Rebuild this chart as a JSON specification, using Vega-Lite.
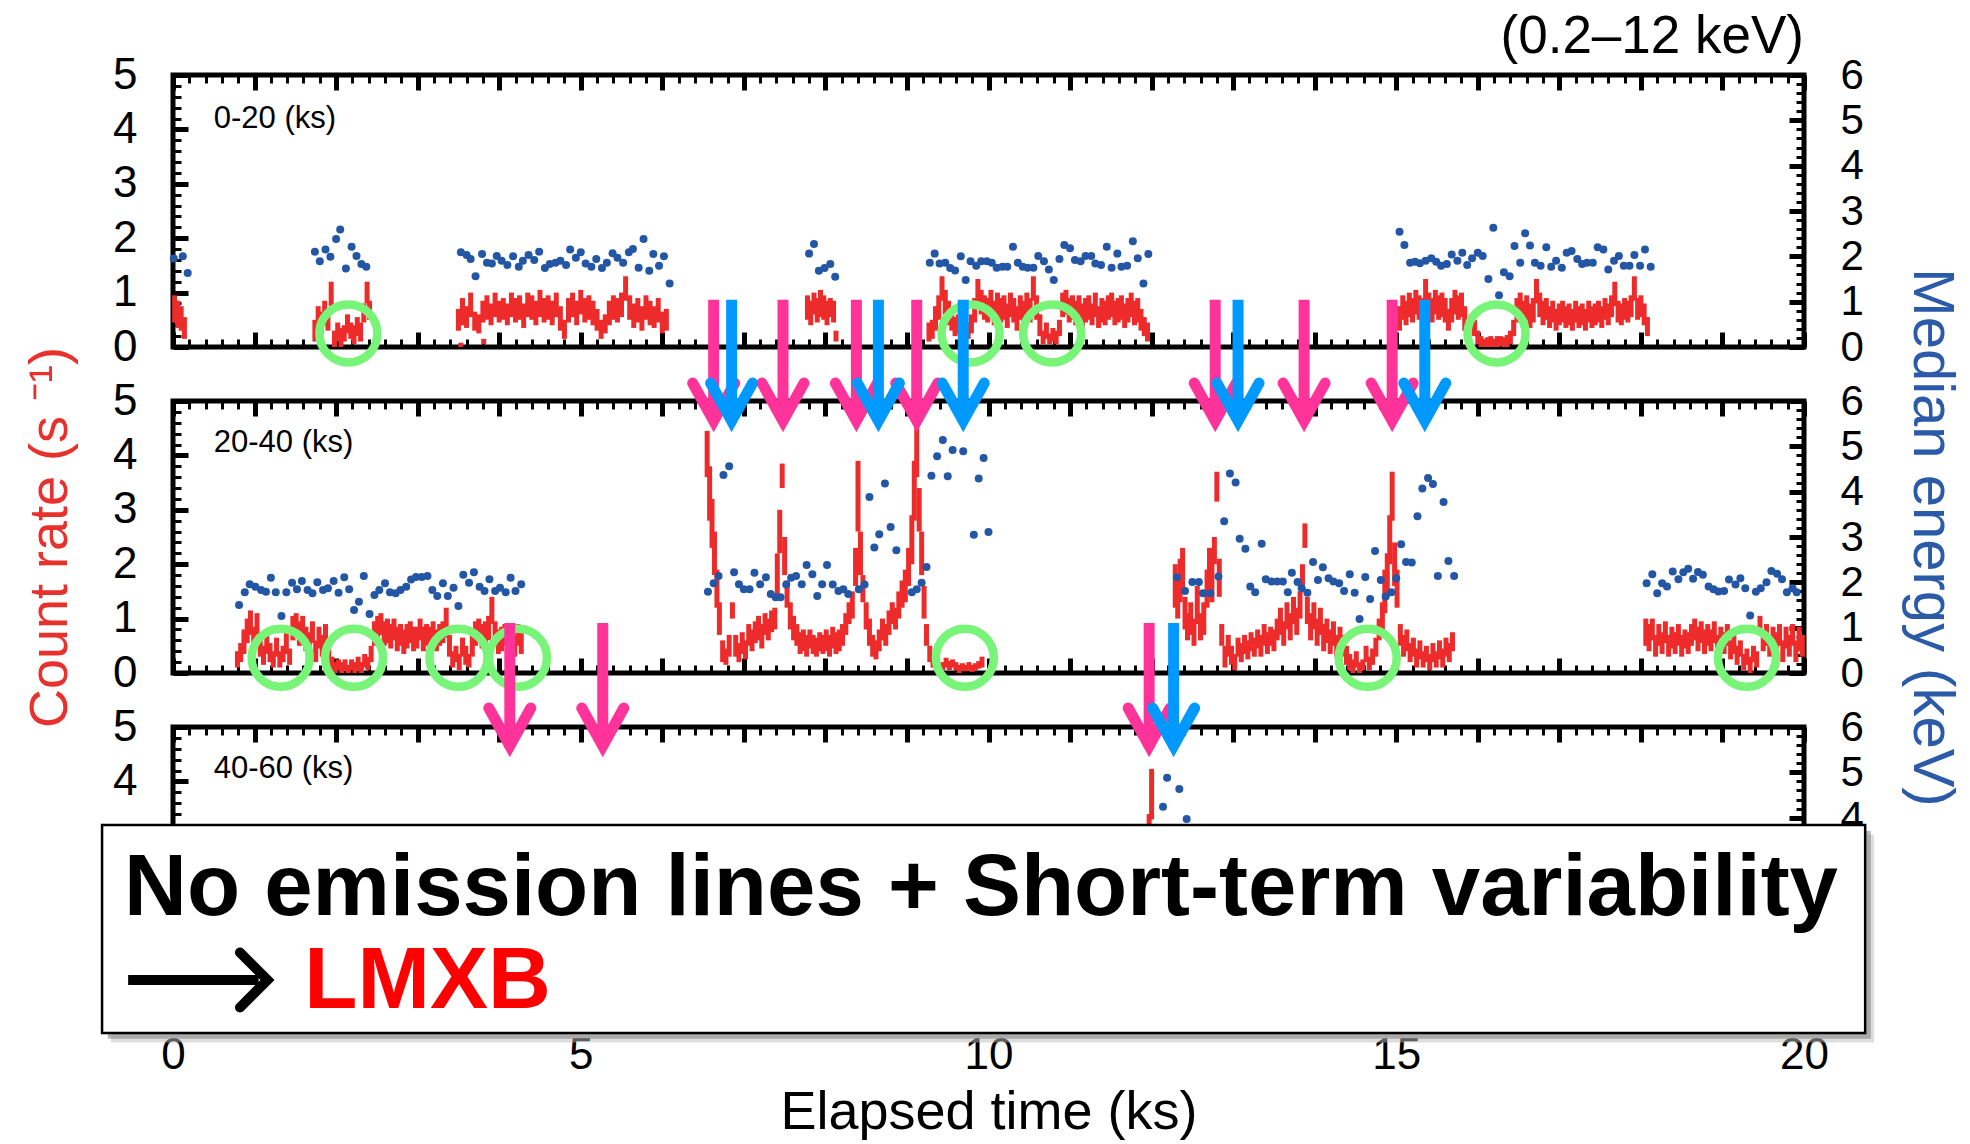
{
"$schema": "https://vega.github.io/schema/vega-lite/v6.json",
"background": "white",
"padding": {"left": 21, "top": 8, "right": 5, "bottom": 5},
"bounds": "flush",
"spacing": 54,
"config": {
  "view": {"stroke": "black", "strokeWidth": 5},
  "axis": {"grid": false, "labelFont": "Liberation Sans", "titleFont": "Liberation Sans", "labelColor": "black", "tickColor": "black", "labelFlush": false, "labelOverlap": false, "titleFontWeight": "normal"},
  "text": {"font": "Liberation Sans", "color": "black"}
},
"datasets": {
"r1": [
{"t":0.02,"a":0.45,"b":0.95},{"t":0.06,"a":0.35,"b":0.85},{"t":0.1,"a":0.3,"b":0.75},{"t":0.14,"a":0.15,"b":0.55},
{"t":1.74,"a":0.1,"b":0.5},{"t":1.78,"a":0.3,"b":0.75},{"t":1.82,"a":0.25,"b":0.65},{"t":1.86,"a":0.4,"b":0.85},{"t":1.9,"a":0.3,"b":0.7},{"t":1.94,"a":0.75,"b":1.2},{"t":1.98,"a":0.0,"b":0.3},{"t":2.02,"a":0.1,"b":0.45},{"t":2.06,"a":0.0,"b":0.35},{"t":2.1,"a":0.1,"b":0.4},{"t":2.14,"a":0.25,"b":0.6},{"t":2.18,"a":0.15,"b":0.45},{"t":2.22,"a":0.05,"b":0.4},{"t":2.26,"a":0.2,"b":0.55},{"t":2.3,"a":0.1,"b":0.45},{"t":2.34,"a":0.45,"b":0.8},{"t":2.38,"a":0.8,"b":1.2},{"t":2.41,"a":0.5,"b":0.85},
{"t":3.5,"a":0.3,"b":0.7},{"t":3.53,"a":0.0,"b":0.08},{"t":3.55,"a":0.4,"b":0.9},{"t":3.6,"a":0.35,"b":0.75},{"t":3.65,"a":0.55,"b":1.0},{"t":3.7,"a":0.3,"b":0.65},{"t":3.75,"a":0.25,"b":0.6},{"t":3.8,"a":0.45,"b":0.85},{"t":3.81,"a":0.05,"b":0.15},{"t":3.85,"a":0.5,"b":0.95},{"t":3.9,"a":0.4,"b":0.8},{"t":3.95,"a":0.55,"b":1.0},{"t":4.0,"a":0.45,"b":0.85},{"t":4.05,"a":0.5,"b":0.9},{"t":4.1,"a":0.4,"b":0.8},{"t":4.15,"a":0.55,"b":1.0},{"t":4.2,"a":0.45,"b":0.9},{"t":4.25,"a":0.5,"b":0.95},{"t":4.3,"a":0.35,"b":0.8},{"t":4.35,"a":0.55,"b":1.0},{"t":4.4,"a":0.5,"b":0.95},{"t":4.45,"a":0.4,"b":0.85},{"t":4.5,"a":0.55,"b":1.05},{"t":4.55,"a":0.45,"b":0.9},{"t":4.6,"a":0.5,"b":0.95},{"t":4.65,"a":0.4,"b":0.85},{"t":4.7,"a":0.55,"b":1.0},{"t":4.75,"a":0.3,"b":0.75},{"t":4.8,"a":0.15,"b":0.5},{"t":4.85,"a":0.45,"b":0.9},{"t":4.9,"a":0.55,"b":1.0},{"t":4.95,"a":0.4,"b":0.85},{"t":5.0,"a":0.6,"b":1.05},{"t":5.05,"a":0.45,"b":0.9},{"t":5.1,"a":0.5,"b":0.95},{"t":5.15,"a":0.4,"b":0.85},{"t":5.2,"a":0.3,"b":0.7},{"t":5.25,"a":0.15,"b":0.5},{"t":5.3,"a":0.25,"b":0.6},{"t":5.35,"a":0.4,"b":0.85},{"t":5.4,"a":0.5,"b":0.95},{"t":5.45,"a":0.45,"b":0.9},{"t":5.5,"a":0.55,"b":1.0},{"t":5.55,"a":0.85,"b":1.3},{"t":5.6,"a":0.5,"b":0.95},{"t":5.65,"a":0.35,"b":0.8},{"t":5.7,"a":0.45,"b":0.9},{"t":5.75,"a":0.3,"b":0.75},{"t":5.8,"a":0.5,"b":0.95},{"t":5.85,"a":0.4,"b":0.85},{"t":5.9,"a":0.35,"b":0.75},{"t":5.95,"a":0.45,"b":0.9},{"t":6.0,"a":0.25,"b":0.65},{"t":6.05,"a":0.3,"b":0.7},
{"t":7.78,"a":0.5,"b":0.95},{"t":7.82,"a":0.4,"b":0.85},{"t":7.86,"a":0.6,"b":1.0},{"t":7.9,"a":0.45,"b":0.9},{"t":7.94,"a":0.55,"b":1.05},{"t":7.98,"a":0.5,"b":0.95},{"t":8.02,"a":0.4,"b":0.85},{"t":8.06,"a":0.55,"b":0.9},{"t":8.1,"a":0.45,"b":0.85},{"t":8.13,"a":0.1,"b":0.3},
{"t":9.27,"a":0.1,"b":0.45},{"t":9.31,"a":0.15,"b":0.5},{"t":9.35,"a":0.3,"b":0.75},{"t":9.39,"a":0.5,"b":0.95},{"t":9.43,"a":0.85,"b":1.3},{"t":9.47,"a":0.6,"b":1.05},{"t":9.51,"a":0.4,"b":0.85},{"t":9.55,"a":0.3,"b":0.7},{"t":9.59,"a":0.2,"b":0.55},{"t":9.63,"a":0.25,"b":0.6},{"t":9.67,"a":0.1,"b":0.45},{"t":9.71,"a":0.05,"b":0.3},{"t":9.75,"a":0.15,"b":0.45},{"t":9.79,"a":0.25,"b":0.6},{"t":9.83,"a":0.45,"b":0.9},{"t":9.87,"a":0.8,"b":1.25},{"t":9.91,"a":0.6,"b":1.05},{"t":9.95,"a":0.5,"b":0.95},{"t":9.99,"a":0.45,"b":0.9},{"t":10.03,"a":0.6,"b":1.05},{"t":10.07,"a":0.4,"b":0.85},{"t":10.11,"a":0.55,"b":1.0},{"t":10.15,"a":0.45,"b":0.9},{"t":10.19,"a":0.5,"b":0.95},{"t":10.23,"a":0.35,"b":0.8},{"t":10.27,"a":0.55,"b":1.0},{"t":10.31,"a":0.45,"b":0.9},{"t":10.35,"a":0.3,"b":0.75},{"t":10.39,"a":0.5,"b":0.95},{"t":10.43,"a":0.4,"b":0.85},{"t":10.47,"a":0.55,"b":1.0},{"t":10.51,"a":0.45,"b":0.9},{"t":10.55,"a":0.85,"b":1.3},{"t":10.59,"a":0.5,"b":0.95},{"t":10.63,"a":0.2,"b":0.6},{"t":10.67,"a":0.05,"b":0.3},{"t":10.71,"a":0.15,"b":0.45},{"t":10.75,"a":0.05,"b":0.25},{"t":10.79,"a":0.1,"b":0.35},{"t":10.83,"a":0.05,"b":0.3},{"t":10.87,"a":0.2,"b":0.5},{"t":10.91,"a":0.55,"b":1.0},{"t":10.95,"a":0.6,"b":1.05},{"t":10.99,"a":0.45,"b":0.9},{"t":11.03,"a":0.5,"b":0.95},{"t":11.07,"a":0.4,"b":0.85},{"t":11.11,"a":0.55,"b":0.95},{"t":11.15,"a":0.35,"b":0.8},{"t":11.19,"a":0.45,"b":0.9},{"t":11.23,"a":0.5,"b":0.95},{"t":11.27,"a":0.4,"b":0.8},{"t":11.31,"a":0.55,"b":1.0},{"t":11.35,"a":0.35,"b":0.75},{"t":11.39,"a":0.45,"b":0.9},{"t":11.43,"a":0.4,"b":0.85},{"t":11.47,"a":0.5,"b":0.95},{"t":11.51,"a":0.55,"b":1.0},{"t":11.55,"a":0.4,"b":0.85},{"t":11.59,"a":0.45,"b":0.9},{"t":11.63,"a":0.5,"b":0.95},{"t":11.67,"a":0.35,"b":0.8},{"t":11.71,"a":0.45,"b":0.9},{"t":11.75,"a":0.55,"b":1.0},{"t":11.79,"a":0.4,"b":0.85},{"t":11.83,"a":0.45,"b":0.9},{"t":11.87,"a":0.3,"b":0.7},{"t":11.91,"a":0.2,"b":0.55},{"t":11.95,"a":0.1,"b":0.45},
{"t":15.04,"a":0.3,"b":0.75},{"t":15.08,"a":0.5,"b":0.95},{"t":15.12,"a":0.4,"b":0.85},{"t":15.16,"a":0.55,"b":1.0},{"t":15.2,"a":0.45,"b":0.9},{"t":15.24,"a":0.6,"b":1.05},{"t":15.28,"a":0.5,"b":0.95},{"t":15.32,"a":0.45,"b":0.9},{"t":15.36,"a":0.8,"b":1.25},{"t":15.4,"a":0.55,"b":1.0},{"t":15.44,"a":0.45,"b":0.9},{"t":15.48,"a":0.6,"b":1.05},{"t":15.52,"a":0.5,"b":0.95},{"t":15.56,"a":0.55,"b":1.0},{"t":15.6,"a":0.45,"b":0.9},{"t":15.64,"a":0.3,"b":0.7},{"t":15.68,"a":0.45,"b":0.9},{"t":15.72,"a":0.6,"b":1.05},{"t":15.76,"a":0.5,"b":0.95},{"t":15.8,"a":0.55,"b":1.0},{"t":15.84,"a":0.3,"b":0.75},{"t":15.88,"a":0.15,"b":0.45},{"t":15.92,"a":0.3,"b":0.6},{"t":15.96,"a":0.2,"b":0.5},{"t":16.0,"a":0.05,"b":0.3},{"t":16.04,"a":0.0,"b":0.2},{"t":16.08,"a":0.0,"b":0.15},{"t":16.12,"a":0.0,"b":0.18},{"t":16.16,"a":0.0,"b":0.2},{"t":16.2,"a":0.0,"b":0.15},{"t":16.24,"a":0.0,"b":0.2},{"t":16.28,"a":0.02,"b":0.2},{"t":16.32,"a":0.0,"b":0.18},{"t":16.36,"a":0.0,"b":0.22},{"t":16.4,"a":0.05,"b":0.3},{"t":16.44,"a":0.2,"b":0.5},{"t":16.48,"a":0.45,"b":0.9},{"t":16.52,"a":0.55,"b":1.0},{"t":16.56,"a":0.4,"b":0.85},{"t":16.6,"a":0.5,"b":0.95},{"t":16.64,"a":0.35,"b":0.8},{"t":16.68,"a":0.45,"b":0.9},{"t":16.72,"a":0.8,"b":1.25},{"t":16.76,"a":0.55,"b":1.0},{"t":16.8,"a":0.4,"b":0.85},{"t":16.84,"a":0.5,"b":0.9},{"t":16.88,"a":0.35,"b":0.75},{"t":16.92,"a":0.45,"b":0.85},{"t":16.96,"a":0.3,"b":0.7},{"t":17.0,"a":0.4,"b":0.8},{"t":17.04,"a":0.45,"b":0.85},{"t":17.08,"a":0.35,"b":0.75},{"t":17.12,"a":0.4,"b":0.8},{"t":17.16,"a":0.3,"b":0.7},{"t":17.2,"a":0.45,"b":0.85},{"t":17.24,"a":0.35,"b":0.75},{"t":17.28,"a":0.4,"b":0.8},{"t":17.32,"a":0.3,"b":0.7},{"t":17.36,"a":0.45,"b":0.85},{"t":17.4,"a":0.35,"b":0.75},{"t":17.44,"a":0.4,"b":0.8},{"t":17.48,"a":0.45,"b":0.85},{"t":17.52,"a":0.35,"b":0.75},{"t":17.56,"a":0.5,"b":0.9},{"t":17.6,"a":0.4,"b":0.8},{"t":17.64,"a":0.55,"b":0.95},{"t":17.68,"a":0.75,"b":1.2},{"t":17.72,"a":0.45,"b":0.85},{"t":17.76,"a":0.4,"b":0.8},{"t":17.8,"a":0.5,"b":0.9},{"t":17.84,"a":0.45,"b":0.85},{"t":17.88,"a":0.55,"b":0.95},{"t":17.92,"a":0.85,"b":1.3},{"t":17.96,"a":0.5,"b":0.9},{"t":18.0,"a":0.55,"b":0.95},{"t":18.04,"a":0.4,"b":0.8},{"t":18.08,"a":0.2,"b":0.55}
],
"e1": [
{"t":0.01,"e":1.95},{"t":0.12,"e":2.0},{"t":0.18,"e":1.63},
{"t":1.74,"e":2.1},{"t":1.8,"e":1.89},{"t":1.87,"e":2.15},{"t":1.93,"e":1.99},{"t":2.0,"e":2.38},{"t":2.05,"e":2.59},{"t":2.12,"e":1.73},{"t":2.19,"e":2.21},{"t":2.25,"e":2.01},{"t":2.31,"e":1.83},{"t":2.37,"e":1.77},
{"t":3.53,"e":2.09},{"t":3.6,"e":2.03},{"t":3.65,"e":1.94},{"t":3.71,"e":1.56},{"t":3.79,"e":2.05},{"t":3.85,"e":1.86},{"t":3.91,"e":1.84},{"t":3.97,"e":2.01},{"t":4.03,"e":1.9},{"t":4.1,"e":1.81},{"t":4.17,"e":2.0},{"t":4.24,"e":1.77},{"t":4.29,"e":1.9},{"t":4.36,"e":2.03},{"t":4.43,"e":1.92},{"t":4.49,"e":2.1},{"t":4.56,"e":1.74},{"t":4.62,"e":1.83},{"t":4.69,"e":1.86},{"t":4.75,"e":1.9},{"t":4.82,"e":1.81},{"t":4.87,"e":2.15},{"t":4.94,"e":1.97},{"t":5.0,"e":2.09},{"t":5.06,"e":1.84},{"t":5.13,"e":1.77},{"t":5.19,"e":1.94},{"t":5.26,"e":1.74},{"t":5.32,"e":1.86},{"t":5.39,"e":2.07},{"t":5.45,"e":1.97},{"t":5.52,"e":1.86},{"t":5.59,"e":2.09},{"t":5.64,"e":2.16},{"t":5.71,"e":1.75},{"t":5.77,"e":2.38},{"t":5.84,"e":1.68},{"t":5.89,"e":2.05},{"t":5.96,"e":1.79},{"t":6.02,"e":2.0},{"t":6.09,"e":1.4},
{"t":7.8,"e":2.06},{"t":7.86,"e":2.27},{"t":7.92,"e":1.68},{"t":7.99,"e":1.74},{"t":8.06,"e":1.83},{"t":8.12,"e":1.55},
{"t":9.28,"e":1.86},{"t":9.34,"e":2.06},{"t":9.4,"e":1.84},{"t":9.47,"e":1.86},{"t":9.53,"e":1.74},{"t":9.59,"e":1.69},{"t":9.66,"e":2.0},{"t":9.72,"e":1.48},{"t":9.78,"e":1.89},{"t":9.85,"e":1.79},{"t":9.91,"e":1.89},{"t":9.98,"e":1.89},{"t":10.04,"e":1.86},{"t":10.1,"e":1.75},{"t":10.17,"e":1.77},{"t":10.23,"e":1.77},{"t":10.3,"e":2.21},{"t":10.36,"e":1.86},{"t":10.42,"e":1.77},{"t":10.48,"e":1.75},{"t":10.55,"e":1.75},{"t":10.61,"e":2.01},{"t":10.68,"e":1.89},{"t":10.74,"e":1.71},{"t":10.8,"e":1.48},{"t":10.87,"e":1.94},{"t":10.93,"e":2.25},{"t":11.0,"e":2.18},{"t":11.06,"e":1.92},{"t":11.13,"e":1.89},{"t":11.19,"e":2.01},{"t":11.26,"e":2.01},{"t":11.31,"e":1.84},{"t":11.38,"e":1.81},{"t":11.45,"e":2.21},{"t":11.51,"e":1.75},{"t":11.58,"e":2.06},{"t":11.63,"e":1.77},{"t":11.7,"e":1.79},{"t":11.77,"e":2.33},{"t":11.83,"e":1.96},{"t":11.9,"e":1.4},{"t":11.96,"e":2.05},
{"t":15.04,"e":2.54},{"t":15.1,"e":2.25},{"t":15.17,"e":1.86},{"t":15.23,"e":1.88},{"t":15.29,"e":1.85},{"t":15.36,"e":1.9},{"t":15.43,"e":1.96},{"t":15.49,"e":1.88},{"t":15.55,"e":1.79},{"t":15.62,"e":1.83},{"t":15.68,"e":2.04},{"t":15.75,"e":1.9},{"t":15.81,"e":2.08},{"t":15.87,"e":1.81},{"t":15.93,"e":1.96},{"t":16.0,"e":2.08},{"t":16.06,"e":2.01},{"t":16.13,"e":1.5},{"t":16.19,"e":2.63},{"t":16.26,"e":1.14},{"t":16.32,"e":1.65},{"t":16.39,"e":1.56},{"t":16.45,"e":2.23},{"t":16.52,"e":1.86},{"t":16.58,"e":2.51},{"t":16.64,"e":2.24},{"t":16.7,"e":1.86},{"t":16.77,"e":1.79},{"t":16.84,"e":2.2},{"t":16.9,"e":1.77},{"t":16.96,"e":1.9},{"t":17.03,"e":1.75},{"t":17.09,"e":2.08},{"t":17.15,"e":2.12},{"t":17.22,"e":1.94},{"t":17.28,"e":1.83},{"t":17.34,"e":1.86},{"t":17.41,"e":1.86},{"t":17.47,"e":2.2},{"t":17.54,"e":2.15},{"t":17.6,"e":1.71},{"t":17.67,"e":1.9},{"t":17.73,"e":2.01},{"t":17.79,"e":1.79},{"t":17.86,"e":1.79},{"t":17.92,"e":2.03},{"t":17.99,"e":1.79},{"t":18.05,"e":2.15},{"t":18.12,"e":1.77}
],
"c1": [{"t":2.15,"v":0.25},{"t":9.78,"v":0.25},{"t":10.78,"v":0.25},{"t":16.23,"v":0.25}],
"r2": [
{"t":0.79,"a":0.1,"b":0.4},{"t":0.83,"a":0.2,"b":0.55},{"t":0.87,"a":0.35,"b":0.8},{"t":0.91,"a":0.55,"b":1.0},{"t":0.95,"a":0.7,"b":1.15},{"t":0.99,"a":0.4,"b":0.85},{"t":1.03,"a":0.6,"b":1.1},{"t":1.07,"a":0.3,"b":0.75},{"t":1.11,"a":0.15,"b":0.5},{"t":1.15,"a":0.35,"b":0.7},{"t":1.19,"a":0.2,"b":0.55},{"t":1.23,"a":0.1,"b":0.4},{"t":1.27,"a":0.3,"b":0.65},{"t":1.31,"a":0.1,"b":0.4},{"t":1.35,"a":0.2,"b":0.5},{"t":1.39,"a":0.35,"b":0.75},{"t":1.43,"a":0.15,"b":0.45},{"t":1.47,"a":0.6,"b":1.05},{"t":1.51,"a":0.7,"b":1.1},{"t":1.55,"a":0.5,"b":0.95},{"t":1.59,"a":0.65,"b":1.05},{"t":1.63,"a":0.4,"b":0.85},{"t":1.67,"a":0.3,"b":0.75},{"t":1.71,"a":0.55,"b":0.95},{"t":1.75,"a":0.2,"b":0.6},{"t":1.79,"a":0.45,"b":0.85},{"t":1.83,"a":0.3,"b":0.7},{"t":1.87,"a":0.5,"b":0.9},{"t":1.91,"a":0.15,"b":0.45},{"t":1.95,"a":0.05,"b":0.3},{"t":1.99,"a":0.0,"b":0.2},{"t":2.03,"a":0.05,"b":0.25},{"t":2.07,"a":0.0,"b":0.2},{"t":2.11,"a":0.05,"b":0.25},{"t":2.15,"a":0.0,"b":0.15},{"t":2.19,"a":0.05,"b":0.25},{"t":2.23,"a":0.0,"b":0.2},{"t":2.27,"a":0.05,"b":0.3},{"t":2.31,"a":0.0,"b":0.2},{"t":2.35,"a":0.1,"b":0.35},{"t":2.39,"a":0.05,"b":0.3},{"t":2.43,"a":0.2,"b":0.5},{"t":2.47,"a":0.5,"b":0.95},{"t":2.51,"a":0.6,"b":1.05},{"t":2.55,"a":0.7,"b":1.1},{"t":2.59,"a":0.5,"b":0.95},{"t":2.63,"a":0.55,"b":1.0},{"t":2.67,"a":0.45,"b":0.9},{"t":2.71,"a":0.6,"b":1.0},{"t":2.75,"a":0.4,"b":0.85},{"t":2.79,"a":0.5,"b":0.9},{"t":2.83,"a":0.35,"b":0.8},{"t":2.87,"a":0.45,"b":0.9},{"t":2.91,"a":0.55,"b":0.95},{"t":2.95,"a":0.4,"b":0.85},{"t":2.99,"a":0.45,"b":0.85},{"t":3.03,"a":0.6,"b":1.0},{"t":3.07,"a":0.4,"b":0.85},{"t":3.11,"a":0.5,"b":0.9},{"t":3.15,"a":0.45,"b":0.85},{"t":3.19,"a":0.55,"b":0.95},{"t":3.23,"a":0.4,"b":0.8},{"t":3.27,"a":0.5,"b":0.9},{"t":3.31,"a":0.55,"b":0.95},{"t":3.35,"a":0.65,"b":1.2},{"t":3.39,"a":0.3,"b":0.7},{"t":3.43,"a":0.1,"b":0.4},{"t":3.47,"a":0.2,"b":0.5},{"t":3.51,"a":0.05,"b":0.35},{"t":3.55,"a":0.3,"b":0.65},{"t":3.59,"a":0.15,"b":0.5},{"t":3.63,"a":0.1,"b":0.35},{"t":3.67,"a":0.3,"b":0.7},{"t":3.71,"a":0.5,"b":0.95},{"t":3.75,"a":0.6,"b":1.0},{"t":3.79,"a":0.45,"b":0.9},{"t":3.83,"a":0.55,"b":0.95},{"t":3.87,"a":0.6,"b":1.05},{"t":3.91,"a":0.9,"b":1.4},{"t":3.95,"a":0.5,"b":0.95},{"t":3.99,"a":0.35,"b":0.8},{"t":4.03,"a":0.4,"b":0.85},{"t":4.07,"a":0.5,"b":0.9},{"t":4.11,"a":0.35,"b":0.75},{"t":4.15,"a":0.45,"b":0.85},{"t":4.19,"a":0.3,"b":0.7},{"t":4.23,"a":0.5,"b":0.9},{"t":4.27,"a":0.35,"b":0.75},
{"t":6.55,"a":3.6,"b":4.45},{"t":6.58,"a":2.8,"b":3.8},{"t":6.61,"a":2.3,"b":3.2},{"t":6.64,"a":1.8,"b":2.6},{"t":6.67,"a":1.2,"b":1.9},{"t":6.7,"a":0.7,"b":1.3},{"t":6.74,"a":0.2,"b":0.6},{"t":6.78,"a":0.15,"b":0.45},{"t":6.82,"a":0.3,"b":0.7},{"t":6.86,"a":1.0,"b":1.3},{"t":6.9,"a":0.3,"b":0.7},{"t":6.94,"a":0.2,"b":0.55},{"t":6.98,"a":0.35,"b":0.75},{"t":7.02,"a":0.25,"b":0.6},{"t":7.06,"a":0.5,"b":0.9},{"t":7.1,"a":0.4,"b":0.8},{"t":7.14,"a":0.55,"b":0.95},{"t":7.18,"a":0.6,"b":1.05},{"t":7.22,"a":0.45,"b":0.9},{"t":7.26,"a":0.7,"b":1.1},{"t":7.3,"a":0.6,"b":1.0},{"t":7.34,"a":0.75,"b":1.15},{"t":7.38,"a":0.8,"b":1.2},{"t":7.41,"a":1.4,"b":2.2},{"t":7.44,"a":2.2,"b":3.0},{"t":7.47,"a":3.4,"b":3.85},{"t":7.5,"a":1.8,"b":2.5},{"t":7.53,"a":1.2,"b":1.7},{"t":7.57,"a":0.8,"b":1.3},{"t":7.61,"a":0.6,"b":1.05},{"t":7.65,"a":0.5,"b":0.9},{"t":7.69,"a":0.35,"b":0.75},{"t":7.73,"a":0.4,"b":0.8},{"t":7.77,"a":0.3,"b":0.7},{"t":7.81,"a":0.45,"b":0.8},{"t":7.85,"a":0.35,"b":0.7},{"t":7.89,"a":0.3,"b":0.65},{"t":7.93,"a":0.4,"b":0.75},{"t":7.97,"a":0.35,"b":0.7},{"t":8.01,"a":0.4,"b":0.8},{"t":8.05,"a":0.3,"b":0.7},{"t":8.09,"a":0.45,"b":0.85},{"t":8.13,"a":0.35,"b":0.75},{"t":8.17,"a":0.4,"b":0.8},{"t":8.21,"a":0.5,"b":0.9},{"t":8.25,"a":0.7,"b":1.1},{"t":8.29,"a":0.9,"b":1.3},{"t":8.33,"a":1.0,"b":1.5},{"t":8.37,"a":1.6,"b":2.3},{"t":8.4,"a":2.6,"b":3.9},{"t":8.43,"a":1.8,"b":2.6},{"t":8.46,"a":1.3,"b":1.8},{"t":8.5,"a":0.8,"b":1.3},{"t":8.54,"a":0.5,"b":1.0},{"t":8.58,"a":0.3,"b":0.7},{"t":8.62,"a":0.25,"b":0.6},{"t":8.66,"a":0.4,"b":0.8},{"t":8.7,"a":0.6,"b":1.0},{"t":8.74,"a":0.5,"b":0.9},{"t":8.78,"a":0.7,"b":1.15},{"t":8.82,"a":0.9,"b":1.3},{"t":8.86,"a":0.8,"b":1.2},{"t":8.9,"a":1.0,"b":1.5},{"t":8.94,"a":1.2,"b":1.7},{"t":8.98,"a":1.3,"b":1.9},{"t":9.02,"a":1.6,"b":2.3},{"t":9.06,"a":2.0,"b":2.9},{"t":9.09,"a":2.8,"b":3.9},{"t":9.12,"a":3.6,"b":4.6},{"t":9.15,"a":2.6,"b":3.4},{"t":9.18,"a":1.8,"b":2.6},{"t":9.21,"a":1.0,"b":1.6},{"t":9.24,"a":0.5,"b":0.9},{"t":9.28,"a":0.2,"b":0.5},{"t":9.32,"a":0.1,"b":0.3},{"t":9.36,"a":0.05,"b":0.25},{"t":9.4,"a":0.0,"b":0.15},{"t":9.44,"a":0.05,"b":0.2},{"t":9.48,"a":0.1,"b":0.28},{"t":9.52,"a":0.05,"b":0.22},{"t":9.56,"a":0.1,"b":0.25},{"t":9.6,"a":0.05,"b":0.2},{"t":9.64,"a":0.0,"b":0.15},{"t":9.68,"a":0.05,"b":0.18},{"t":9.72,"a":0.03,"b":0.15},{"t":9.76,"a":0.05,"b":0.2},{"t":9.8,"a":0.02,"b":0.15},{"t":9.84,"a":0.05,"b":0.18},{"t":9.88,"a":0.08,"b":0.22},{"t":9.92,"a":0.1,"b":0.3},
{"t":12.29,"a":1.2,"b":2.0},{"t":12.32,"a":1.0,"b":1.8},{"t":12.35,"a":1.3,"b":2.1},{"t":12.38,"a":1.5,"b":2.3},{"t":12.41,"a":0.8,"b":1.4},{"t":12.44,"a":0.6,"b":1.1},{"t":12.48,"a":0.7,"b":1.3},{"t":12.52,"a":0.5,"b":1.0},{"t":12.56,"a":0.9,"b":1.6},{"t":12.6,"a":0.6,"b":1.1},{"t":12.64,"a":0.7,"b":1.3},{"t":12.68,"a":1.2,"b":1.9},{"t":12.71,"a":1.5,"b":2.3},{"t":12.74,"a":1.3,"b":2.1},{"t":12.77,"a":2.0,"b":2.5},{"t":12.8,"a":3.15,"b":3.7},{"t":12.83,"a":1.4,"b":2.1},{"t":12.86,"a":0.5,"b":0.9},{"t":12.9,"a":0.1,"b":0.5},{"t":12.94,"a":0.3,"b":0.7},{"t":12.98,"a":0.15,"b":0.5},{"t":13.02,"a":0.05,"b":0.35},{"t":13.06,"a":0.3,"b":0.65},{"t":13.1,"a":0.2,"b":0.55},{"t":13.14,"a":0.35,"b":0.7},{"t":13.18,"a":0.25,"b":0.6},{"t":13.22,"a":0.4,"b":0.75},{"t":13.26,"a":0.3,"b":0.65},{"t":13.3,"a":0.45,"b":0.8},{"t":13.34,"a":0.3,"b":0.7},{"t":13.38,"a":0.5,"b":0.9},{"t":13.42,"a":0.35,"b":0.75},{"t":13.46,"a":0.5,"b":0.85},{"t":13.5,"a":0.4,"b":0.8},{"t":13.54,"a":0.6,"b":1.0},{"t":13.58,"a":0.7,"b":1.2},{"t":13.62,"a":0.5,"b":0.95},{"t":13.66,"a":0.8,"b":1.3},{"t":13.7,"a":0.6,"b":1.1},{"t":13.74,"a":0.9,"b":1.4},{"t":13.78,"a":0.7,"b":1.2},{"t":13.82,"a":1.0,"b":1.5},{"t":13.85,"a":1.5,"b":2.0},{"t":13.88,"a":2.3,"b":2.75},{"t":13.91,"a":0.9,"b":1.4},{"t":13.95,"a":0.6,"b":1.1},{"t":13.99,"a":0.8,"b":1.3},{"t":14.03,"a":0.5,"b":1.0},{"t":14.07,"a":0.7,"b":1.2},{"t":14.11,"a":0.4,"b":0.9},{"t":14.15,"a":0.55,"b":1.0},{"t":14.19,"a":0.35,"b":0.8},{"t":14.23,"a":0.5,"b":0.95},{"t":14.27,"a":0.3,"b":0.7},{"t":14.31,"a":0.45,"b":0.85},{"t":14.35,"a":0.3,"b":0.7},{"t":14.39,"a":0.15,"b":0.5},{"t":14.43,"a":0.05,"b":0.35},{"t":14.47,"a":0.0,"b":0.25},{"t":14.51,"a":0.1,"b":0.4},{"t":14.55,"a":0.0,"b":0.2},{"t":14.59,"a":0.05,"b":0.25},{"t":14.63,"a":0.2,"b":0.5},{"t":14.67,"a":0.05,"b":0.3},{"t":14.71,"a":0.15,"b":0.45},{"t":14.75,"a":0.3,"b":0.65},{"t":14.79,"a":0.6,"b":1.0},{"t":14.83,"a":0.8,"b":1.3},{"t":14.86,"a":1.1,"b":1.9},{"t":14.89,"a":1.4,"b":2.2},{"t":14.92,"a":2.0,"b":2.9},{"t":14.95,"a":2.8,"b":3.7},{"t":14.98,"a":1.6,"b":2.4},{"t":15.01,"a":1.2,"b":1.9},{"t":15.05,"a":0.5,"b":0.9},{"t":15.09,"a":0.3,"b":0.7},{"t":15.13,"a":0.4,"b":0.8},{"t":15.17,"a":0.2,"b":0.55},{"t":15.21,"a":0.3,"b":0.65},{"t":15.25,"a":0.1,"b":0.45},{"t":15.29,"a":0.25,"b":0.6},{"t":15.33,"a":0.1,"b":0.4},{"t":15.37,"a":0.2,"b":0.5},{"t":15.41,"a":0.05,"b":0.35},{"t":15.45,"a":0.2,"b":0.55},{"t":15.49,"a":0.1,"b":0.4},{"t":15.53,"a":0.25,"b":0.6},{"t":15.57,"a":0.1,"b":0.45},{"t":15.61,"a":0.3,"b":0.65},{"t":15.65,"a":0.2,"b":0.55},{"t":15.69,"a":0.4,"b":0.75},
{"t":18.06,"a":0.5,"b":1.0},{"t":18.1,"a":0.4,"b":0.9},{"t":18.14,"a":0.6,"b":1.0},{"t":18.18,"a":0.3,"b":0.7},{"t":18.22,"a":0.5,"b":0.9},{"t":18.26,"a":0.35,"b":0.75},{"t":18.3,"a":0.55,"b":0.95},{"t":18.34,"a":0.3,"b":0.7},{"t":18.38,"a":0.45,"b":0.85},{"t":18.42,"a":0.35,"b":0.75},{"t":18.46,"a":0.5,"b":0.9},{"t":18.5,"a":0.3,"b":0.7},{"t":18.54,"a":0.45,"b":0.8},{"t":18.58,"a":0.35,"b":0.75},{"t":18.62,"a":0.5,"b":0.9},{"t":18.66,"a":0.6,"b":1.0},{"t":18.7,"a":0.4,"b":0.85},{"t":18.74,"a":0.55,"b":0.95},{"t":18.78,"a":0.35,"b":0.8},{"t":18.82,"a":0.5,"b":0.9},{"t":18.86,"a":0.4,"b":0.8},{"t":18.9,"a":0.55,"b":0.95},{"t":18.94,"a":0.3,"b":0.7},{"t":18.98,"a":0.45,"b":0.85},{"t":19.02,"a":0.35,"b":0.75},{"t":19.06,"a":0.5,"b":0.9},{"t":19.1,"a":0.25,"b":0.6},{"t":19.14,"a":0.35,"b":0.7},{"t":19.18,"a":0.15,"b":0.5},{"t":19.22,"a":0.3,"b":0.6},{"t":19.26,"a":0.05,"b":0.35},{"t":19.3,"a":0.15,"b":0.45},{"t":19.34,"a":0.0,"b":0.3},{"t":19.38,"a":0.2,"b":0.5},{"t":19.42,"a":0.1,"b":0.4},{"t":19.46,"a":0.7,"b":1.05},{"t":19.5,"a":0.4,"b":0.8},{"t":19.54,"a":0.5,"b":0.9},{"t":19.58,"a":0.3,"b":0.7},{"t":19.62,"a":0.45,"b":0.85},{"t":19.66,"a":0.35,"b":0.75},{"t":19.7,"a":0.5,"b":0.9},{"t":19.74,"a":0.2,"b":0.6},{"t":19.78,"a":0.45,"b":0.85},{"t":19.82,"a":0.3,"b":0.7},{"t":19.86,"a":0.5,"b":0.9},{"t":19.9,"a":0.2,"b":0.6},{"t":19.94,"a":0.4,"b":0.85},{"t":19.98,"a":0.3,"b":0.7}
],
"e2": [
{"t":0.81,"e":1.5},{"t":0.88,"e":1.78},{"t":0.94,"e":1.96},{"t":1.01,"e":1.9},{"t":1.08,"e":1.83},{"t":1.14,"e":1.79},{"t":1.2,"e":2.1},{"t":1.26,"e":1.78},{"t":1.33,"e":1.26},{"t":1.39,"e":1.78},{"t":1.46,"e":1.99},{"t":1.52,"e":1.85},{"t":1.58,"e":2.03},{"t":1.65,"e":1.83},{"t":1.71,"e":1.76},{"t":1.77,"e":2.0},{"t":1.84,"e":1.83},{"t":1.9,"e":1.87},{"t":1.97,"e":2.03},{"t":2.03,"e":1.77},{"t":2.1,"e":2.11},{"t":2.16,"e":1.85},{"t":2.22,"e":1.39},{"t":2.28,"e":1.57},{"t":2.34,"e":2.14},{"t":2.41,"e":1.3},{"t":2.47,"e":1.72},{"t":2.53,"e":1.83},{"t":2.6,"e":1.98},{"t":2.66,"e":1.78},{"t":2.73,"e":1.76},{"t":2.79,"e":1.83},{"t":2.86,"e":1.9},{"t":2.92,"e":2.06},{"t":2.98,"e":2.12},{"t":3.05,"e":2.12},{"t":3.12,"e":2.14},{"t":3.18,"e":1.83},{"t":3.24,"e":1.7},{"t":3.31,"e":1.98},{"t":3.37,"e":1.7},{"t":3.44,"e":1.88},{"t":3.5,"e":1.48},{"t":3.56,"e":2.17},{"t":3.63,"e":1.99},{"t":3.69,"e":2.22},{"t":3.76,"e":1.9},{"t":3.82,"e":1.81},{"t":3.88,"e":2.07},{"t":3.95,"e":1.81},{"t":4.01,"e":1.88},{"t":4.08,"e":1.78},{"t":4.14,"e":2.1},{"t":4.2,"e":1.81},{"t":4.27,"e":1.96},
{"t":6.56,"e":1.79},{"t":6.63,"e":1.98},{"t":6.69,"e":2.14},{"t":6.75,"e":4.37},{"t":6.82,"e":4.56},{"t":6.88,"e":2.22},{"t":6.94,"e":1.96},{"t":7.0,"e":1.85},{"t":7.07,"e":1.85},{"t":7.13,"e":2.21},{"t":7.2,"e":1.96},{"t":7.27,"e":2.11},{"t":7.33,"e":1.74},{"t":7.39,"e":1.67},{"t":7.45,"e":1.67},{"t":7.52,"e":1.95},{"t":7.58,"e":2.1},{"t":7.64,"e":2.14},{"t":7.71,"e":1.96},{"t":7.77,"e":2.38},{"t":7.84,"e":2.18},{"t":7.9,"e":1.7},{"t":7.96,"e":1.96},{"t":8.02,"e":2.38},{"t":8.09,"e":1.95},{"t":8.16,"e":1.81},{"t":8.22,"e":1.85},{"t":8.28,"e":1.74},{"t":8.41,"e":1.85},{"t":8.48,"e":1.95},{"t":8.54,"e":3.88},{"t":8.6,"e":2.77},{"t":8.66,"e":3.06},{"t":8.73,"e":4.18},{"t":8.8,"e":3.22},{"t":8.87,"e":2.71},{"t":9.06,"e":1.78},{"t":9.12,"e":1.85},{"t":9.18,"e":1.99},{"t":9.24,"e":2.34},{"t":9.3,"e":4.35},{"t":9.37,"e":4.78},{"t":9.44,"e":5.14},{"t":9.5,"e":4.34},{"t":9.56,"e":4.92},{"t":9.69,"e":4.89},{"t":9.82,"e":3.05},{"t":9.88,"e":4.29},{"t":9.94,"e":4.74},{"t":10.0,"e":3.11},
{"t":12.31,"e":2.11},{"t":12.41,"e":1.81},{"t":12.5,"e":2.01},{"t":12.58,"e":2.01},{"t":12.63,"e":1.76},{"t":12.72,"e":1.76},{"t":12.82,"e":2.13},{"t":12.89,"e":3.35},{"t":12.96,"e":4.4},{"t":13.03,"e":4.2},{"t":13.08,"e":2.96},{"t":13.15,"e":2.74},{"t":13.21,"e":1.91},{"t":13.27,"e":1.78},{"t":13.35,"e":2.85},{"t":13.4,"e":2.07},{"t":13.47,"e":2.02},{"t":13.54,"e":2.02},{"t":13.61,"e":2.02},{"t":13.67,"e":1.78},{"t":13.72,"e":2.21},{"t":13.79,"e":2.01},{"t":13.84,"e":1.87},{"t":13.91,"e":1.77},{"t":13.98,"e":2.45},{"t":14.04,"e":2.05},{"t":14.1,"e":2.33},{"t":14.17,"e":2.09},{"t":14.23,"e":2.02},{"t":14.3,"e":1.98},{"t":14.36,"e":1.81},{"t":14.43,"e":2.18},{"t":14.49,"e":1.77},{"t":14.55,"e":1.19},{"t":14.62,"e":2.12},{"t":14.68,"e":1.63},{"t":14.74,"e":2.69},{"t":14.81,"e":2.05},{"t":14.87,"e":1.69},{"t":14.94,"e":1.78},{"t":15.0,"e":2.09},{"t":15.06,"e":2.84},{"t":15.12,"e":2.45},{"t":15.19,"e":2.44},{"t":15.26,"e":3.46},{"t":15.32,"e":4.07},{"t":15.39,"e":4.3},{"t":15.45,"e":4.17},{"t":15.51,"e":2.14},{"t":15.58,"e":3.77},{"t":15.64,"e":2.47},{"t":15.71,"e":2.14},
{"t":18.07,"e":1.98},{"t":18.14,"e":2.18},{"t":18.2,"e":1.76},{"t":18.26,"e":1.98},{"t":18.32,"e":1.91},{"t":18.39,"e":2.24},{"t":18.46,"e":2.07},{"t":18.52,"e":2.22},{"t":18.58,"e":2.3},{"t":18.64,"e":2.08},{"t":18.7,"e":2.23},{"t":18.76,"e":2.17},{"t":18.83,"e":1.91},{"t":18.89,"e":1.85},{"t":18.95,"e":1.8},{"t":19.02,"e":1.81},{"t":19.08,"e":2.06},{"t":19.16,"e":1.95},{"t":19.22,"e":2.09},{"t":19.28,"e":1.87},{"t":19.34,"e":1.27},{"t":19.41,"e":1.79},{"t":19.47,"e":1.87},{"t":19.54,"e":2.0},{"t":19.6,"e":2.25},{"t":19.67,"e":2.19},{"t":19.73,"e":2.07},{"t":19.79,"e":1.78},{"t":19.86,"e":1.87},{"t":19.91,"e":1.78}
],
"c2": [{"t":1.32,"v":0.28},{"t":2.22,"v":0.28},{"t":3.5,"v":0.28},{"t":4.23,"v":0.28},{"t":9.71,"v":0.28},{"t":14.65,"v":0.28},{"t":19.3,"v":0.28}],
"r3": [{"t":11.97,"a":2.6,"b":3.4},{"t":12.0,"a":3.3,"b":4.23},{"t":12.03,"a":1.8,"b":2.7},{"t":12.06,"a":1.0,"b":1.8}],
"e3": [{"t":12.14,"e":4.24},{"t":12.19,"e":4.88},{"t":12.34,"e":4.63},{"t":12.43,"e":3.97}],
"pa2": [{"t":6.63},{"t":7.48},{"t":8.38},{"t":9.12},{"t":12.78},{"t":13.87},{"t":14.95}],
"ba2": [{"t":6.85},{"t":8.65},{"t":9.69},{"t":13.06},{"t":15.35}],
"pa3": [{"t":4.13},{"t":5.27},{"t":11.97}],
"ba3": [{"t":12.27}]
},
"vconcat": [
{
 "width": 1631, "height": 272,
 "resolve": {"scale": {"y": "independent"}, "axis": {"x": "independent", "y": "independent"}},
 "layer": [
  {"data": {"name": "r1"}, "mark": {"type": "rule", "color": "#ee2b2b", "strokeWidth": 5},
   "encoding": {
    "x": {"field": "t", "type": "quantitative", "scale": {"domain": [0, 20], "nice": false}, "axis": {"orient": "bottom", "domain": false, "tickSize": -15, "tickWidth": 5, "values": [0,1,2,3,4,5,6,7,8,9,10,11,12,13,14,15,16,17,18,19,20], "labels": false, "title": null}},
    "y": {"field": "a", "type": "quantitative", "scale": {"domain": [0, 5], "nice": false}, "axis": {"orient": "left", "domain": false, "tickSize": -15, "tickWidth": 5, "values": [0,1,2,3,4,5], "labelFontSize": 44, "labelPadding": 51, "title": null}},
    "y2": {"field": "b"}}},
  {"data": {"name": "r1"}, "mark": {"type": "point", "opacity": 0},
   "encoding": {
    "x": {"field": "t", "type": "quantitative", "scale": {"domain": [0, 20], "nice": false}, "axis": {"orient": "bottom", "domain": false, "tickSize": -8, "tickWidth": 3, "labels": false, "title": null, "values": [0,0.2,0.4,0.6,0.8,1,1.2,1.4,1.6,1.8,2,2.2,2.4,2.6,2.8,3,3.2,3.4,3.6,3.8,4,4.2,4.4,4.6,4.8,5,5.2,5.4,5.6,5.8,6,6.2,6.4,6.6,6.8,7,7.2,7.4,7.6,7.8,8,8.2,8.4,8.6,8.8,9,9.2,9.4,9.6,9.8,10,10.2,10.4,10.6,10.8,11,11.2,11.4,11.6,11.8,12,12.2,12.4,12.6,12.8,13,13.2,13.4,13.6,13.8,14,14.2,14.4,14.6,14.8,15,15.2,15.4,15.6,15.8,16,16.2,16.4,16.6,16.8,17,17.2,17.4,17.6,17.8,18,18.2,18.4,18.6,18.8,19,19.2,19.4,19.6,19.8,20]}},
    "y": {"field": "a", "type": "quantitative", "scale": {"domain": [0, 5], "nice": false}, "axis": {"orient": "left", "domain": false, "tickSize": -8, "tickWidth": 3, "labels": false, "title": null, "values": [0,0.2,0.4,0.6,0.8,1,1.2,1.4,1.6,1.8,2,2.2,2.4,2.6,2.8,3,3.2,3.4,3.6,3.8,4,4.2,4.4,4.6,4.8,5]}}}},
  {"data": {"name": "e1"}, "mark": {"type": "point", "filled": true, "color": "#2456a6", "size": 64, "opacity": 1},
   "encoding": {
    "x": {"field": "t", "type": "quantitative", "scale": {"domain": [0, 20], "nice": false}, "axis": {"orient": "top", "domain": false, "tickSize": -15, "tickWidth": 5, "values": [0,1,2,3,4,5,6,7,8,9,10,11,12,13,14,15,16,17,18,19,20], "labels": false, "title": null}},
    "y": {"field": "e", "type": "quantitative", "scale": {"domain": [0, 6], "nice": false}, "axis": {"orient": "right", "domain": false, "tickSize": -15, "tickWidth": 5, "values": [0,1,2,3,4,5,6], "labelFontSize": 42, "labelPadding": 51, "title": null}}}},
  {"data": {"name": "e1"}, "mark": {"type": "point", "opacity": 0},
   "encoding": {
    "x": {"field": "t", "type": "quantitative", "scale": {"domain": [0, 20], "nice": false}, "axis": {"orient": "top", "domain": false, "tickSize": -8, "tickWidth": 3, "labels": false, "title": null, "values": [0,0.2,0.4,0.6,0.8,1,1.2,1.4,1.6,1.8,2,2.2,2.4,2.6,2.8,3,3.2,3.4,3.6,3.8,4,4.2,4.4,4.6,4.8,5,5.2,5.4,5.6,5.8,6,6.2,6.4,6.6,6.8,7,7.2,7.4,7.6,7.8,8,8.2,8.4,8.6,8.8,9,9.2,9.4,9.6,9.8,10,10.2,10.4,10.6,10.8,11,11.2,11.4,11.6,11.8,12,12.2,12.4,12.6,12.8,13,13.2,13.4,13.6,13.8,14,14.2,14.4,14.6,14.8,15,15.2,15.4,15.6,15.8,16,16.2,16.4,16.6,16.8,17,17.2,17.4,17.6,17.8,18,18.2,18.4,18.6,18.8,19,19.2,19.4,19.6,19.8,20]}},
    "y": {"field": "e", "type": "quantitative", "scale": {"domain": [0, 6], "nice": false}, "axis": {"orient": "right", "domain": false, "tickSize": -8, "tickWidth": 3, "labels": false, "title": null, "values": [0,0.2,0.4,0.6,0.8,1,1.2,1.4,1.6,1.8,2,2.2,2.4,2.6,2.8,3,3.2,3.4,3.6,3.8,4,4.2,4.4,4.6,4.8,5,5.2,5.4,5.6,5.8,6]}}}},
  {"data": {"name": "c1"}, "mark": {"type": "point", "shape": "circle", "filled": false, "color": "#78f578", "strokeWidth": 8.5, "size": 3364, "opacity": 1, "clip": false},
   "encoding": {
    "x": {"field": "t", "type": "quantitative", "scale": {"domain": [0, 20], "nice": false}, "axis": null},
    "y": {"field": "v", "type": "quantitative", "scale": {"domain": [0, 5], "nice": false}, "axis": null}}},
  {"data": {"values": [{}]}, "mark": {"type": "text", "text": "0-20 (ks)", "fontSize": 31, "align": "left", "baseline": "alphabetic"},
   "encoding": {
    "x": {"datum": 0.5, "type": "quantitative", "scale": {"domain": [0, 20], "nice": false}, "axis": null},
    "y": {"datum": 4.02, "type": "quantitative", "scale": {"domain": [0, 5], "nice": false}, "axis": null}}},
  {"data": {"values": [{}]}, "mark": {"type": "text", "text": "(0.2–12 keV)", "fontSize": 53, "align": "right", "baseline": "alphabetic", "clip": false},
   "encoding": {
    "x": {"datum": 20.0, "type": "quantitative", "scale": {"domain": [0, 20], "nice": false}, "axis": null},
    "y": {"datum": 5.41, "type": "quantitative", "scale": {"domain": [0, 5], "nice": false}, "axis": null}}}
 ]
},
{
 "width": 1631, "height": 272,
 "resolve": {"scale": {"y": "independent"}, "axis": {"x": "independent", "y": "independent"}},
 "layer": [
  {"data": {"name": "r2"}, "mark": {"type": "rule", "color": "#ee2b2b", "strokeWidth": 5},
   "encoding": {
    "x": {"field": "t", "type": "quantitative", "scale": {"domain": [0, 20], "nice": false}, "axis": {"orient": "bottom", "domain": false, "tickSize": -15, "tickWidth": 5, "values": [0,1,2,3,4,5,6,7,8,9,10,11,12,13,14,15,16,17,18,19,20], "labels": false, "title": null}},
    "y": {"field": "a", "type": "quantitative", "scale": {"domain": [0, 5], "nice": false}, "axis": {"orient": "left", "domain": false, "tickSize": -15, "tickWidth": 5, "values": [0,1,2,3,4,5], "labelFontSize": 44, "labelPadding": 51, "title": "Count rate (s ⁻¹)", "titleColor": "#e8312d", "titleFontSize": 54, "titlePadding": 35}},
    "y2": {"field": "b"}}},
  {"data": {"name": "r2"}, "mark": {"type": "point", "opacity": 0},
   "encoding": {
    "x": {"field": "t", "type": "quantitative", "scale": {"domain": [0, 20], "nice": false}, "axis": {"orient": "bottom", "domain": false, "tickSize": -8, "tickWidth": 3, "labels": false, "title": null, "values": [0,0.2,0.4,0.6,0.8,1,1.2,1.4,1.6,1.8,2,2.2,2.4,2.6,2.8,3,3.2,3.4,3.6,3.8,4,4.2,4.4,4.6,4.8,5,5.2,5.4,5.6,5.8,6,6.2,6.4,6.6,6.8,7,7.2,7.4,7.6,7.8,8,8.2,8.4,8.6,8.8,9,9.2,9.4,9.6,9.8,10,10.2,10.4,10.6,10.8,11,11.2,11.4,11.6,11.8,12,12.2,12.4,12.6,12.8,13,13.2,13.4,13.6,13.8,14,14.2,14.4,14.6,14.8,15,15.2,15.4,15.6,15.8,16,16.2,16.4,16.6,16.8,17,17.2,17.4,17.6,17.8,18,18.2,18.4,18.6,18.8,19,19.2,19.4,19.6,19.8,20]}},
    "y": {"field": "a", "type": "quantitative", "scale": {"domain": [0, 5], "nice": false}, "axis": {"orient": "left", "domain": false, "tickSize": -8, "tickWidth": 3, "labels": false, "title": null, "values": [0,0.2,0.4,0.6,0.8,1,1.2,1.4,1.6,1.8,2,2.2,2.4,2.6,2.8,3,3.2,3.4,3.6,3.8,4,4.2,4.4,4.6,4.8,5]}}}},
  {"data": {"name": "e2"}, "mark": {"type": "point", "filled": true, "color": "#2456a6", "size": 64, "opacity": 1},
   "encoding": {
    "x": {"field": "t", "type": "quantitative", "scale": {"domain": [0, 20], "nice": false}, "axis": {"orient": "top", "domain": false, "tickSize": -15, "tickWidth": 5, "values": [0,1,2,3,4,5,6,7,8,9,10,11,12,13,14,15,16,17,18,19,20], "labels": false, "title": null}},
    "y": {"field": "e", "type": "quantitative", "scale": {"domain": [0, 6], "nice": false}, "axis": {"orient": "right", "domain": false, "tickSize": -15, "tickWidth": 5, "values": [0,1,2,3,4,5,6], "labelFontSize": 42, "labelPadding": 51, "title": "Median energy (keV)", "titleColor": "#2a5aa8", "titleFontSize": 58, "titlePadding": 38}}}},
  {"data": {"name": "e2"}, "mark": {"type": "point", "opacity": 0},
   "encoding": {
    "x": {"field": "t", "type": "quantitative", "scale": {"domain": [0, 20], "nice": false}, "axis": {"orient": "top", "domain": false, "tickSize": -8, "tickWidth": 3, "labels": false, "title": null, "values": [0,0.2,0.4,0.6,0.8,1,1.2,1.4,1.6,1.8,2,2.2,2.4,2.6,2.8,3,3.2,3.4,3.6,3.8,4,4.2,4.4,4.6,4.8,5,5.2,5.4,5.6,5.8,6,6.2,6.4,6.6,6.8,7,7.2,7.4,7.6,7.8,8,8.2,8.4,8.6,8.8,9,9.2,9.4,9.6,9.8,10,10.2,10.4,10.6,10.8,11,11.2,11.4,11.6,11.8,12,12.2,12.4,12.6,12.8,13,13.2,13.4,13.6,13.8,14,14.2,14.4,14.6,14.8,15,15.2,15.4,15.6,15.8,16,16.2,16.4,16.6,16.8,17,17.2,17.4,17.6,17.8,18,18.2,18.4,18.6,18.8,19,19.2,19.4,19.6,19.8,20]}},
    "y": {"field": "e", "type": "quantitative", "scale": {"domain": [0, 6], "nice": false}, "axis": {"orient": "right", "domain": false, "tickSize": -8, "tickWidth": 3, "labels": false, "title": null, "values": [0,0.2,0.4,0.6,0.8,1,1.2,1.4,1.6,1.8,2,2.2,2.4,2.6,2.8,3,3.2,3.4,3.6,3.8,4,4.2,4.4,4.6,4.8,5,5.2,5.4,5.6,5.8,6]}}}},
  {"data": {"name": "c2"}, "mark": {"type": "point", "shape": "circle", "filled": false, "color": "#78f578", "strokeWidth": 8.5, "size": 3364, "opacity": 1, "clip": false},
   "encoding": {
    "x": {"field": "t", "type": "quantitative", "scale": {"domain": [0, 20], "nice": false}, "axis": null},
    "y": {"field": "v", "type": "quantitative", "scale": {"domain": [0, 5], "nice": false}, "axis": null}}},
  {"data": {"values": [{}]}, "mark": {"type": "text", "text": "20-40 (ks)", "fontSize": 31, "align": "left", "baseline": "alphabetic"},
   "encoding": {
    "x": {"datum": 0.5, "type": "quantitative", "scale": {"domain": [0, 20], "nice": false}, "axis": null},
    "y": {"datum": 4.07, "type": "quantitative", "scale": {"domain": [0, 5], "nice": false}, "axis": null}}},
  {"data": {"name": "pa2"}, "mark": {"type": "rule", "color": "#ff3399", "strokeWidth": 11, "clip": false},
   "encoding": {
    "x": {"field": "t", "type": "quantitative", "scale": {"domain": [0, 20], "nice": false}, "axis": null},
    "y": {"datum": 6.86, "type": "quantitative", "scale": {"domain": [0, 5], "nice": false}, "axis": null},
    "y2": {"datum": 4.62}}},
  {"data": {"name": "pa2"}, "mark": {"type": "point", "shape": "M-1,-0.8L0,1L1,-0.8", "filled": false, "color": "#ff3399", "strokeWidth": 11, "size": 1764, "opacity": 1, "strokeJoin": "miter", "strokeCap": "round", "clip": false},
   "encoding": {
    "x": {"field": "t", "type": "quantitative", "scale": {"domain": [0, 20], "nice": false}, "axis": null},
    "y": {"datum": 5.02, "type": "quantitative", "scale": {"domain": [0, 5], "nice": false}, "axis": null}}},
  {"data": {"name": "ba2"}, "mark": {"type": "rule", "color": "#0099ff", "strokeWidth": 11, "clip": false},
   "encoding": {
    "x": {"field": "t", "type": "quantitative", "scale": {"domain": [0, 20], "nice": false}, "axis": null},
    "y": {"datum": 6.86, "type": "quantitative", "scale": {"domain": [0, 5], "nice": false}, "axis": null},
    "y2": {"datum": 4.62}}},
  {"data": {"name": "ba2"}, "mark": {"type": "point", "shape": "M-1,-0.8L0,1L1,-0.8", "filled": false, "color": "#0099ff", "strokeWidth": 11, "size": 1764, "opacity": 1, "strokeJoin": "miter", "strokeCap": "round", "clip": false},
   "encoding": {
    "x": {"field": "t", "type": "quantitative", "scale": {"domain": [0, 20], "nice": false}, "axis": null},
    "y": {"datum": 5.02, "type": "quantitative", "scale": {"domain": [0, 5], "nice": false}, "axis": null}}}
 ]
},
{
 "width": 1631, "height": 272,
 "resolve": {"scale": {"y": "independent"}, "axis": {"x": "independent", "y": "independent"}},
 "layer": [
  {"data": {"name": "r3"}, "mark": {"type": "rule", "color": "#ee2b2b", "strokeWidth": 5},
   "encoding": {
    "x": {"field": "t", "type": "quantitative", "scale": {"domain": [0, 20], "nice": false}, "axis": {"orient": "bottom", "domain": false, "tickSize": -15, "tickWidth": 5, "values": [0,1,2,3,4,5,6,7,8,9,10,11,12,13,14,15,16,17,18,19,20], "labels": true, "labelExpr": "datum.value % 5 === 0 ? datum.label : ''", "labelFontSize": 44, "labelPadding": 49, "title": "Elapsed time (ks)", "titleFontSize": 54, "titlePadding": 8}},
    "y": {"field": "a", "type": "quantitative", "scale": {"domain": [0, 5], "nice": false}, "axis": {"orient": "left", "domain": false, "tickSize": -15, "tickWidth": 5, "values": [0,1,2,3,4,5], "labelExpr": "datum.value >= 4 ? datum.label : ''", "labelFontSize": 44, "labelPadding": 51, "title": null}},
    "y2": {"field": "b"}}},
  {"data": {"name": "r3"}, "mark": {"type": "point", "opacity": 0},
   "encoding": {
    "x": {"field": "t", "type": "quantitative", "scale": {"domain": [0, 20], "nice": false}, "axis": {"orient": "bottom", "domain": false, "tickSize": -8, "tickWidth": 3, "labels": false, "title": null, "values": [0,0.2,0.4,0.6,0.8,1,1.2,1.4,1.6,1.8,2,2.2,2.4,2.6,2.8,3,3.2,3.4,3.6,3.8,4,4.2,4.4,4.6,4.8,5,5.2,5.4,5.6,5.8,6,6.2,6.4,6.6,6.8,7,7.2,7.4,7.6,7.8,8,8.2,8.4,8.6,8.8,9,9.2,9.4,9.6,9.8,10,10.2,10.4,10.6,10.8,11,11.2,11.4,11.6,11.8,12,12.2,12.4,12.6,12.8,13,13.2,13.4,13.6,13.8,14,14.2,14.4,14.6,14.8,15,15.2,15.4,15.6,15.8,16,16.2,16.4,16.6,16.8,17,17.2,17.4,17.6,17.8,18,18.2,18.4,18.6,18.8,19,19.2,19.4,19.6,19.8,20]}},
    "y": {"field": "a", "type": "quantitative", "scale": {"domain": [0, 5], "nice": false}, "axis": {"orient": "left", "domain": false, "tickSize": -8, "tickWidth": 3, "labels": false, "title": null, "values": [0,0.2,0.4,0.6,0.8,1,1.2,1.4,1.6,1.8,2,2.2,2.4,2.6,2.8,3,3.2,3.4,3.6,3.8,4,4.2,4.4,4.6,4.8,5]}}}},
  {"data": {"name": "e3"}, "mark": {"type": "point", "filled": true, "color": "#2456a6", "size": 64, "opacity": 1},
   "encoding": {
    "x": {"field": "t", "type": "quantitative", "scale": {"domain": [0, 20], "nice": false}, "axis": {"orient": "top", "domain": false, "tickSize": -15, "tickWidth": 5, "values": [0,1,2,3,4,5,6,7,8,9,10,11,12,13,14,15,16,17,18,19,20], "labels": false, "title": null}},
    "y": {"field": "e", "type": "quantitative", "scale": {"domain": [0, 6], "nice": false}, "axis": {"orient": "right", "domain": false, "tickSize": -15, "tickWidth": 5, "values": [0,1,2,3,4,5,6], "labelExpr": "datum.value >= 4 ? datum.label : ''", "labelFontSize": 42, "labelPadding": 51, "title": null}}}},
  {"data": {"name": "e3"}, "mark": {"type": "point", "opacity": 0},
   "encoding": {
    "x": {"field": "t", "type": "quantitative", "scale": {"domain": [0, 20], "nice": false}, "axis": {"orient": "top", "domain": false, "tickSize": -8, "tickWidth": 3, "labels": false, "title": null, "values": [0,0.2,0.4,0.6,0.8,1,1.2,1.4,1.6,1.8,2,2.2,2.4,2.6,2.8,3,3.2,3.4,3.6,3.8,4,4.2,4.4,4.6,4.8,5,5.2,5.4,5.6,5.8,6,6.2,6.4,6.6,6.8,7,7.2,7.4,7.6,7.8,8,8.2,8.4,8.6,8.8,9,9.2,9.4,9.6,9.8,10,10.2,10.4,10.6,10.8,11,11.2,11.4,11.6,11.8,12,12.2,12.4,12.6,12.8,13,13.2,13.4,13.6,13.8,14,14.2,14.4,14.6,14.8,15,15.2,15.4,15.6,15.8,16,16.2,16.4,16.6,16.8,17,17.2,17.4,17.6,17.8,18,18.2,18.4,18.6,18.8,19,19.2,19.4,19.6,19.8,20]}},
    "y": {"field": "e", "type": "quantitative", "scale": {"domain": [0, 6], "nice": false}, "axis": {"orient": "right", "domain": false, "tickSize": -8, "tickWidth": 3, "labels": false, "title": null, "values": [0,0.2,0.4,0.6,0.8,1,1.2,1.4,1.6,1.8,2,2.2,2.4,2.6,2.8,3,3.2,3.4,3.6,3.8,4,4.2,4.4,4.6,4.8,5,5.2,5.4,5.6,5.8,6]}}}},
  {"data": {"values": [{}]}, "mark": {"type": "text", "text": "40-60 (ks)", "fontSize": 31, "align": "left", "baseline": "alphabetic"},
   "encoding": {
    "x": {"datum": 0.5, "type": "quantitative", "scale": {"domain": [0, 20], "nice": false}, "axis": null},
    "y": {"datum": 4.07, "type": "quantitative", "scale": {"domain": [0, 5], "nice": false}, "axis": null}}},
  {"data": {"name": "pa3"}, "mark": {"type": "rule", "color": "#ff3399", "strokeWidth": 11, "clip": false},
   "encoding": {
    "x": {"field": "t", "type": "quantitative", "scale": {"domain": [0, 20], "nice": false}, "axis": null},
    "y": {"datum": 6.91, "type": "quantitative", "scale": {"domain": [0, 5], "nice": false}, "axis": null},
    "y2": {"datum": 4.62}}},
  {"data": {"name": "pa3"}, "mark": {"type": "point", "shape": "M-1,-0.8L0,1L1,-0.8", "filled": false, "color": "#ff3399", "strokeWidth": 11, "size": 1764, "opacity": 1, "strokeJoin": "miter", "strokeCap": "round", "clip": false},
   "encoding": {
    "x": {"field": "t", "type": "quantitative", "scale": {"domain": [0, 20], "nice": false}, "axis": null},
    "y": {"datum": 5.04, "type": "quantitative", "scale": {"domain": [0, 5], "nice": false}, "axis": null}}},
  {"data": {"name": "ba3"}, "mark": {"type": "rule", "color": "#0099ff", "strokeWidth": 11, "clip": false},
   "encoding": {
    "x": {"field": "t", "type": "quantitative", "scale": {"domain": [0, 20], "nice": false}, "axis": null},
    "y": {"datum": 6.91, "type": "quantitative", "scale": {"domain": [0, 5], "nice": false}, "axis": null},
    "y2": {"datum": 4.62}}},
  {"data": {"name": "ba3"}, "mark": {"type": "point", "shape": "M-1,-0.8L0,1L1,-0.8", "filled": false, "color": "#0099ff", "strokeWidth": 11, "size": 1764, "opacity": 1, "strokeJoin": "miter", "strokeCap": "round", "clip": false},
   "encoding": {
    "x": {"field": "t", "type": "quantitative", "scale": {"domain": [0, 20], "nice": false}, "axis": null},
    "y": {"datum": 5.04, "type": "quantitative", "scale": {"domain": [0, 5], "nice": false}, "axis": null}}},
  {"data": {"values": [{}]}, "mark": {"type": "rect", "fill": "#bbbbbb", "opacity": 0.5, "clip": false},
   "encoding": {
    "x": {"datum": -0.76, "type": "quantitative", "scale": {"domain": [0, 20], "nice": false}, "axis": null},
    "x2": {"datum": 20.86},
    "y": {"datum": 3.02, "type": "quantitative", "scale": {"domain": [0, 5], "nice": false}, "axis": null},
    "y2": {"datum": -0.8}}},
  {"data": {"values": [{}]}, "mark": {"type": "rect", "fill": "#888888", "opacity": 0.6, "clip": false},
   "encoding": {
    "x": {"datum": -0.8, "type": "quantitative", "scale": {"domain": [0, 20], "nice": false}, "axis": null},
    "x2": {"datum": 20.82},
    "y": {"datum": 3.09, "type": "quantitative", "scale": {"domain": [0, 5], "nice": false}, "axis": null},
    "y2": {"datum": -0.73}}},
  {"data": {"values": [{}]}, "mark": {"type": "rect", "fill": "white", "stroke": "black", "strokeWidth": 2.5, "clip": false},
   "encoding": {
    "x": {"datum": -0.87, "type": "quantitative", "scale": {"domain": [0, 20], "nice": false}, "axis": null},
    "x2": {"datum": 20.75},
    "y": {"datum": 3.2, "type": "quantitative", "scale": {"domain": [0, 5], "nice": false}, "axis": null},
    "y2": {"datum": -0.625}}},
  {"data": {"values": [{}]}, "mark": {"type": "text", "text": "No emission lines + Short-term variability", "fontSize": 87, "fontWeight": "bold", "align": "left", "baseline": "alphabetic", "clip": false},
   "encoding": {
    "x": {"datum": -0.6, "type": "quantitative", "scale": {"domain": [0, 20], "nice": false}, "axis": null},
    "y": {"datum": 1.544, "type": "quantitative", "scale": {"domain": [0, 5], "nice": false}, "axis": null}}},
  {"data": {"values": [{}]}, "mark": {"type": "rule", "color": "black", "strokeWidth": 10, "clip": false},
   "encoding": {
    "x": {"datum": -0.55, "type": "quantitative", "scale": {"domain": [0, 20], "nice": false}, "axis": null},
    "x2": {"datum": 1.05},
    "y": {"datum": 0.35, "type": "quantitative", "scale": {"domain": [0, 5], "nice": false}, "axis": null}}},
  {"data": {"values": [{}]}, "mark": {"type": "point", "shape": "M-0.5,-1L0.5,0L-0.5,1", "filled": false, "color": "black", "strokeWidth": 10, "size": 3025, "opacity": 1, "strokeJoin": "miter", "strokeCap": "round", "clip": false},
   "encoding": {
    "x": {"datum": 0.99, "type": "quantitative", "scale": {"domain": [0, 20], "nice": false}, "axis": null},
    "y": {"datum": 0.35, "type": "quantitative", "scale": {"domain": [0, 5], "nice": false}, "axis": null}}},
  {"data": {"values": [{}]}, "mark": {"type": "text", "text": "LMXB", "fontSize": 87, "fontWeight": "bold", "color": "#ff0000", "align": "left", "baseline": "alphabetic", "clip": false},
   "encoding": {
    "x": {"datum": 1.61, "type": "quantitative", "scale": {"domain": [0, 20], "nice": false}, "axis": null},
    "y": {"datum": -0.165, "type": "quantitative", "scale": {"domain": [0, 5], "nice": false}, "axis": null}}}
 ]
}
]
}
